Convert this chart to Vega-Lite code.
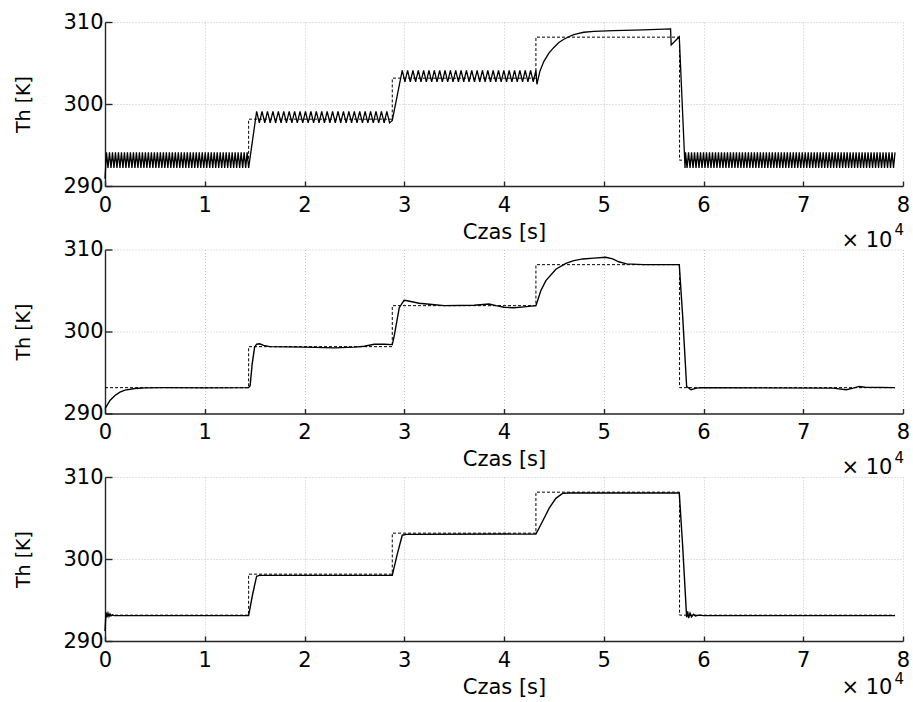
{
"$schema": "https://vega.github.io/schema/vega-lite/v6.json",
"padding": {"left": 14, "top": 11, "right": 2, "bottom": 2},
"background": "white",
"datasets": {
"sp": [{"i":0,"t":0,"v":293.15},{"i":1,"t":14400,"v":293.15},{"i":2,"t":14400,"v":298.15},{"i":3,"t":28800,"v":298.15},{"i":4,"t":28800,"v":303.15},{"i":5,"t":43200,"v":303.15},{"i":6,"t":43200,"v":308.15},{"i":7,"t":57600,"v":308.15},{"i":8,"t":57600,"v":293.15},{"i":9,"t":79200,"v":293.15}],
"r1": [
{"t":0,"v":290.9},{"t":150,"v":294.1},{"t":300,"v":292.2},{"t":450,"v":294.1},{"t":600,"v":292.2},{"t":750,"v":294.1},{"t":900,"v":292.2},{"t":1050,"v":294.1},{"t":1200,"v":292.2},{"t":1350,"v":294.1},{"t":1500,"v":292.2},{"t":1650,"v":294.1},{"t":1800,"v":292.2},{"t":1950,"v":294.1},{"t":2100,"v":292.2},{"t":2250,"v":294.1},{"t":2400,"v":292.2},{"t":2550,"v":294.1},{"t":2700,"v":292.2},{"t":2850,"v":294.1},{"t":3000,"v":292.2},{"t":3150,"v":294.1},{"t":3300,"v":292.2},{"t":3450,"v":294.1},{"t":3600,"v":292.2},{"t":3750,"v":294.1},{"t":3900,"v":292.2},{"t":4050,"v":294.1},{"t":4200,"v":292.2},{"t":4350,"v":294.1},{"t":4500,"v":292.2},{"t":4650,"v":294.1},{"t":4800,"v":292.2},{"t":4950,"v":294.1},{"t":5100,"v":292.2},{"t":5250,"v":294.1},{"t":5400,"v":292.2},{"t":5550,"v":294.1},{"t":5700,"v":292.2},{"t":5850,"v":294.1},{"t":6000,"v":292.2},{"t":6150,"v":294.1},{"t":6300,"v":292.2},{"t":6450,"v":294.1},{"t":6600,"v":292.2},{"t":6750,"v":294.1},{"t":6900,"v":292.2},{"t":7050,"v":294.1},{"t":7200,"v":292.2},{"t":7350,"v":294.1},{"t":7500,"v":292.2},{"t":7650,"v":294.1},{"t":7800,"v":292.2},{"t":7950,"v":294.1},{"t":8100,"v":292.2},{"t":8250,"v":294.1},{"t":8400,"v":292.2},{"t":8550,"v":294.1},{"t":8700,"v":292.2},{"t":8850,"v":294.1},{"t":9000,"v":292.2},{"t":9150,"v":294.1},{"t":9300,"v":292.2},{"t":9450,"v":294.1},{"t":9600,"v":292.2},{"t":9750,"v":294.1},{"t":9900,"v":292.2},{"t":10050,"v":294.1},{"t":10200,"v":292.2},{"t":10350,"v":294.1},{"t":10500,"v":292.2},{"t":10650,"v":294.1},{"t":10800,"v":292.2},{"t":10950,"v":294.1},{"t":11100,"v":292.2},{"t":11250,"v":294.1},{"t":11400,"v":292.2},{"t":11550,"v":294.1},{"t":11700,"v":292.2},{"t":11850,"v":294.1},{"t":12000,"v":292.2},{"t":12150,"v":294.1},{"t":12300,"v":292.2},{"t":12450,"v":294.1},{"t":12600,"v":292.2},{"t":12750,"v":294.1},{"t":12900,"v":292.2},{"t":13050,"v":294.1},{"t":13200,"v":292.2},{"t":13350,"v":294.1},{"t":13500,"v":292.2},{"t":13650,"v":294.1},{"t":13800,"v":292.2},{"t":13950,"v":294.1},{"t":14100,"v":292.2},{"t":14250,"v":294.1},{"t":14400,"v":292.2},
{"t":15200,"v":299.1},{"t":15472,"v":297.7},{"t":15744,"v":299.1},{"t":16016,"v":297.7},{"t":16288,"v":299.1},{"t":16560,"v":297.7},{"t":16832,"v":299.1},{"t":17104,"v":297.7},{"t":17376,"v":299.1},{"t":17648,"v":297.7},{"t":17920,"v":299.1},{"t":18192,"v":297.7},{"t":18464,"v":299.1},{"t":18736,"v":297.7},{"t":19008,"v":299.1},{"t":19280,"v":297.7},{"t":19552,"v":299.1},{"t":19824,"v":297.7},{"t":20096,"v":299.1},{"t":20368,"v":297.7},{"t":20640,"v":299.1},{"t":20912,"v":297.7},{"t":21184,"v":299.1},{"t":21456,"v":297.7},{"t":21728,"v":299.1},{"t":22000,"v":297.7},{"t":22272,"v":299.1},{"t":22544,"v":297.7},{"t":22816,"v":299.1},{"t":23088,"v":297.7},{"t":23360,"v":299.1},{"t":23632,"v":297.7},{"t":23904,"v":299.1},{"t":24176,"v":297.7},{"t":24448,"v":299.1},{"t":24720,"v":297.7},{"t":24992,"v":299.1},{"t":25264,"v":297.7},{"t":25536,"v":299.1},{"t":25808,"v":297.7},{"t":26080,"v":299.1},{"t":26352,"v":297.7},{"t":26624,"v":299.1},{"t":26896,"v":297.7},{"t":27168,"v":299.1},{"t":27440,"v":297.7},{"t":27712,"v":299.1},{"t":27984,"v":297.7},{"t":28256,"v":299.1},{"t":28528,"v":297.7},{"t":28800,"v":298.0},
{"t":29800,"v":304.1},{"t":30068,"v":302.7},{"t":30336,"v":304.1},{"t":30604,"v":302.7},{"t":30872,"v":304.1},{"t":31140,"v":302.7},{"t":31408,"v":304.1},{"t":31676,"v":302.7},{"t":31944,"v":304.1},{"t":32212,"v":302.7},{"t":32480,"v":304.1},{"t":32748,"v":302.7},{"t":33016,"v":304.1},{"t":33284,"v":302.7},{"t":33552,"v":304.1},{"t":33820,"v":302.7},{"t":34088,"v":304.1},{"t":34356,"v":302.7},{"t":34624,"v":304.1},{"t":34892,"v":302.7},{"t":35160,"v":304.1},{"t":35428,"v":302.7},{"t":35696,"v":304.1},{"t":35964,"v":302.7},{"t":36232,"v":304.1},{"t":36500,"v":302.7},{"t":36768,"v":304.1},{"t":37036,"v":302.7},{"t":37304,"v":304.1},{"t":37572,"v":302.7},{"t":37840,"v":304.1},{"t":38108,"v":302.7},{"t":38376,"v":304.1},{"t":38644,"v":302.7},{"t":38912,"v":304.1},{"t":39180,"v":302.7},{"t":39448,"v":304.1},{"t":39716,"v":302.7},{"t":39984,"v":304.1},{"t":40252,"v":302.7},{"t":40520,"v":304.1},{"t":40788,"v":302.7},{"t":41056,"v":304.1},{"t":41324,"v":302.7},{"t":41592,"v":304.1},{"t":41860,"v":302.7},{"t":42128,"v":304.1},{"t":42396,"v":302.7},{"t":42664,"v":304.1},{"t":42932,"v":302.7},{"t":43200,"v":304.1},
{"t":43300,"v":302.4},{"t":43600,"v":304.0},{"t":44000,"v":305.2},{"t":44500,"v":306.2},{"t":45000,"v":306.9},{"t":45500,"v":307.5},{"t":46000,"v":307.9},{"t":46500,"v":308.2},{"t":47000,"v":308.45},{"t":47500,"v":308.6},{"t":48000,"v":308.75},{"t":49000,"v":308.85},{"t":51000,"v":308.95},{"t":54000,"v":309.05},{"t":56700,"v":309.15},{"t":56760,"v":307.2},{"t":57570,"v":308.2},{"t":58150,"v":292.2},
{"t":58200,"v":294.1},{"t":58350,"v":292.2},{"t":58500,"v":294.1},{"t":58650,"v":292.2},{"t":58800,"v":294.1},{"t":58950,"v":292.2},{"t":59100,"v":294.1},{"t":59250,"v":292.2},{"t":59400,"v":294.1},{"t":59550,"v":292.2},{"t":59700,"v":294.1},{"t":59850,"v":292.2},{"t":60000,"v":294.1},{"t":60150,"v":292.2},{"t":60300,"v":294.1},{"t":60450,"v":292.2},{"t":60600,"v":294.1},{"t":60750,"v":292.2},{"t":60900,"v":294.1},{"t":61050,"v":292.2},{"t":61200,"v":294.1},{"t":61350,"v":292.2},{"t":61500,"v":294.1},{"t":61650,"v":292.2},{"t":61800,"v":294.1},{"t":61950,"v":292.2},{"t":62100,"v":294.1},{"t":62250,"v":292.2},{"t":62400,"v":294.1},{"t":62550,"v":292.2},{"t":62700,"v":294.1},{"t":62850,"v":292.2},{"t":63000,"v":294.1},{"t":63150,"v":292.2},{"t":63300,"v":294.1},{"t":63450,"v":292.2},{"t":63600,"v":294.1},{"t":63750,"v":292.2},{"t":63900,"v":294.1},{"t":64050,"v":292.2},{"t":64200,"v":294.1},{"t":64350,"v":292.2},{"t":64500,"v":294.1},{"t":64650,"v":292.2},{"t":64800,"v":294.1},{"t":64950,"v":292.2},{"t":65100,"v":294.1},{"t":65250,"v":292.2},{"t":65400,"v":294.1},{"t":65550,"v":292.2},{"t":65700,"v":294.1},{"t":65850,"v":292.2},{"t":66000,"v":294.1},{"t":66150,"v":292.2},{"t":66300,"v":294.1},{"t":66450,"v":292.2},{"t":66600,"v":294.1},{"t":66750,"v":292.2},{"t":66900,"v":294.1},{"t":67050,"v":292.2},{"t":67200,"v":294.1},{"t":67350,"v":292.2},{"t":67500,"v":294.1},{"t":67650,"v":292.2},{"t":67800,"v":294.1},{"t":67950,"v":292.2},{"t":68100,"v":294.1},{"t":68250,"v":292.2},{"t":68400,"v":294.1},{"t":68550,"v":292.2},{"t":68700,"v":294.1},{"t":68850,"v":292.2},{"t":69000,"v":294.1},{"t":69150,"v":292.2},{"t":69300,"v":294.1},{"t":69450,"v":292.2},{"t":69600,"v":294.1},{"t":69750,"v":292.2},{"t":69900,"v":294.1},{"t":70050,"v":292.2},{"t":70200,"v":294.1},{"t":70350,"v":292.2},{"t":70500,"v":294.1},{"t":70650,"v":292.2},{"t":70800,"v":294.1},{"t":70950,"v":292.2},{"t":71100,"v":294.1},{"t":71250,"v":292.2},{"t":71400,"v":294.1},{"t":71550,"v":292.2},{"t":71700,"v":294.1},{"t":71850,"v":292.2},{"t":72000,"v":294.1},{"t":72150,"v":292.2},{"t":72300,"v":294.1},{"t":72450,"v":292.2},{"t":72600,"v":294.1},{"t":72750,"v":292.2},{"t":72900,"v":294.1},{"t":73050,"v":292.2},{"t":73200,"v":294.1},{"t":73350,"v":292.2},{"t":73500,"v":294.1},{"t":73650,"v":292.2},{"t":73800,"v":294.1},{"t":73950,"v":292.2},{"t":74100,"v":294.1},{"t":74250,"v":292.2},{"t":74400,"v":294.1},{"t":74550,"v":292.2},{"t":74700,"v":294.1},{"t":74850,"v":292.2},{"t":75000,"v":294.1},{"t":75150,"v":292.2},{"t":75300,"v":294.1},{"t":75450,"v":292.2},{"t":75600,"v":294.1},{"t":75750,"v":292.2},{"t":75900,"v":294.1},{"t":76050,"v":292.2},{"t":76200,"v":294.1},{"t":76350,"v":292.2},{"t":76500,"v":294.1},{"t":76650,"v":292.2},{"t":76800,"v":294.1},{"t":76950,"v":292.2},{"t":77100,"v":294.1},{"t":77250,"v":292.2},{"t":77400,"v":294.1},{"t":77550,"v":292.2},{"t":77700,"v":294.1},{"t":77850,"v":292.2},{"t":78000,"v":294.1},{"t":78150,"v":292.2},{"t":78300,"v":294.1},{"t":78450,"v":292.2},{"t":78600,"v":294.1},{"t":78750,"v":292.2},{"t":78900,"v":294.1},{"t":79050,"v":292.2},{"t":79200,"v":294.1}
],
"r2": [
{"t":0,"v":290.6},{"t":200,"v":291.0},{"t":500,"v":291.6},{"t":1000,"v":292.2},{"t":1500,"v":292.6},{"t":2000,"v":292.85},{"t":3000,"v":293.05},{"t":4000,"v":293.12},{"t":6000,"v":293.15},{"t":10000,"v":293.12},{"t":14400,"v":293.15},{"t":14550,"v":293.4},{"t":14750,"v":296.0},{"t":15000,"v":298.1},{"t":15200,"v":298.45},{"t":15500,"v":298.5},{"t":15900,"v":298.3},{"t":16500,"v":298.15},{"t":20000,"v":298.1},{"t":23000,"v":298.0},{"t":25000,"v":298.1},{"t":26000,"v":298.2},{"t":27000,"v":298.45},{"t":28000,"v":298.45},{"t":28800,"v":298.4},{"t":29000,"v":299.5},{"t":29500,"v":302.9},{"t":29980,"v":303.8},{"t":30300,"v":303.75},{"t":31500,"v":303.45},{"t":32800,"v":303.3},{"t":34000,"v":303.15},{"t":37000,"v":303.2},{"t":38500,"v":303.35},{"t":39200,"v":303.15},{"t":40000,"v":302.95},{"t":41000,"v":302.9},{"t":42000,"v":303.0},{"t":43200,"v":303.15},{"t":43700,"v":305.0},{"t":44200,"v":306.2},{"t":45200,"v":307.6},{"t":46200,"v":308.3},{"t":47000,"v":308.65},{"t":47900,"v":308.85},{"t":49000,"v":308.95},{"t":50200,"v":309.05},{"t":50900,"v":308.85},{"t":51500,"v":308.5},{"t":52300,"v":308.25},{"t":54000,"v":308.15},{"t":57570,"v":308.15},{"t":57900,"v":302.1},{"t":58310,"v":293.3},{"t":58750,"v":292.9},{"t":59300,"v":293.1},{"t":59900,"v":293.15},{"t":73000,"v":293.1},{"t":74300,"v":292.9},{"t":75000,"v":293.1},{"t":75600,"v":293.3},{"t":76200,"v":293.2},{"t":79200,"v":293.15}
],
"r3": [
{"t":0,"v":291.2},{"t":100,"v":293.5},{"t":200,"v":292.9},{"t":300,"v":293.4},{"t":400,"v":293.0},{"t":500,"v":293.3},{"t":600,"v":293.05},{"t":750,"v":293.2},{"t":900,"v":293.1},{"t":14400,"v":293.1},{"t":14800,"v":295.7},{"t":15200,"v":297.9},{"t":15500,"v":298.0},{"t":28800,"v":298.0},{"t":29300,"v":300.6},{"t":29800,"v":302.9},{"t":30200,"v":303.0},{"t":43200,"v":303.05},{"t":43870,"v":304.6},{"t":44530,"v":306.2},{"t":45200,"v":307.4},{"t":45870,"v":308.0},{"t":46500,"v":308.05},{"t":57570,"v":308.05},{"t":57900,"v":301.8},{"t":58310,"v":292.9},{"t":58410,"v":293.6},{"t":58510,"v":292.8},{"t":58650,"v":293.4},{"t":58800,"v":292.95},{"t":59000,"v":293.25},{"t":59200,"v":293.05},{"t":59500,"v":293.15},{"t":60000,"v":293.1},{"t":79200,"v":293.1}
]
},
"vconcat": [
{"width": 798, "height": 164, "layer": [
 {"data": {"name": "sp"}, "mark": {"type": "line", "color": "black", "strokeWidth": 1, "strokeDash": [3, 2]},
  "encoding": {"x": {"field": "t", "type": "quantitative", "title": "Czas [s]", "scale": {"domain": [0, 80000], "nice": false}, "axis": {"values": [0,10000,20000,30000,40000,50000,60000,70000,80000], "labelExpr": "datum.value/10000"}},
   "y": {"field": "v", "type": "quantitative", "title": "Th [K]", "scale": {"domain": [290, 310], "nice": false, "zero": false}, "axis": {"values": [290, 300, 310]}},
   "order": {"field": "i"}}},
 {"data": {"name": "r1"}, "mark": {"type": "line", "color": "black", "strokeWidth": 1.3},
  "encoding": {"x": {"field": "t", "type": "quantitative", "title": "Czas [s]"}, "y": {"field": "v", "type": "quantitative", "title": "Th [K]"}}},
 {"data": {"values": [{"a": "× 10"}]}, "mark": {"type": "text", "align": "right", "baseline": "alphabetic", "fontSize": 21},
  "encoding": {"x": {"datum": 78940, "type": "quantitative"}, "y": {"datum": 282.6, "type": "quantitative"}, "text": {"field": "a"}}},
 {"data": {"values": [{"a": "4"}]}, "mark": {"type": "text", "align": "left", "baseline": "alphabetic", "fontSize": 15},
  "encoding": {"x": {"datum": 79140, "type": "quantitative"}, "y": {"datum": 284.0, "type": "quantitative"}, "text": {"field": "a"}}}
]},
{"width": 798, "height": 164, "layer": [
 {"data": {"name": "sp"}, "mark": {"type": "line", "color": "black", "strokeWidth": 1, "strokeDash": [3, 2]},
  "encoding": {"x": {"field": "t", "type": "quantitative", "title": "Czas [s]", "scale": {"domain": [0, 80000], "nice": false}, "axis": {"values": [0,10000,20000,30000,40000,50000,60000,70000,80000], "labelExpr": "datum.value/10000"}},
   "y": {"field": "v", "type": "quantitative", "title": "Th [K]", "scale": {"domain": [290, 310], "nice": false, "zero": false}, "axis": {"values": [290, 300, 310]}},
   "order": {"field": "i"}}},
 {"data": {"name": "r2"}, "mark": {"type": "line", "color": "black", "strokeWidth": 1.4},
  "encoding": {"x": {"field": "t", "type": "quantitative", "title": "Czas [s]"}, "y": {"field": "v", "type": "quantitative", "title": "Th [K]"}}},
 {"data": {"values": [{"a": "× 10"}]}, "mark": {"type": "text", "align": "right", "baseline": "alphabetic", "fontSize": 21},
  "encoding": {"x": {"datum": 78940, "type": "quantitative"}, "y": {"datum": 282.6, "type": "quantitative"}, "text": {"field": "a"}}},
 {"data": {"values": [{"a": "4"}]}, "mark": {"type": "text", "align": "left", "baseline": "alphabetic", "fontSize": 15},
  "encoding": {"x": {"datum": 79140, "type": "quantitative"}, "y": {"datum": 284.0, "type": "quantitative"}, "text": {"field": "a"}}}
]},
{"width": 798, "height": 164, "layer": [
 {"data": {"name": "sp"}, "mark": {"type": "line", "color": "black", "strokeWidth": 1, "strokeDash": [3, 2]},
  "encoding": {"x": {"field": "t", "type": "quantitative", "title": "Czas [s]", "scale": {"domain": [0, 80000], "nice": false}, "axis": {"values": [0,10000,20000,30000,40000,50000,60000,70000,80000], "labelExpr": "datum.value/10000"}},
   "y": {"field": "v", "type": "quantitative", "title": "Th [K]", "scale": {"domain": [290, 310], "nice": false, "zero": false}, "axis": {"values": [290, 300, 310]}},
   "order": {"field": "i"}}},
 {"data": {"name": "r3"}, "mark": {"type": "line", "color": "black", "strokeWidth": 1.4},
  "encoding": {"x": {"field": "t", "type": "quantitative", "title": "Czas [s]"}, "y": {"field": "v", "type": "quantitative", "title": "Th [K]"}}},
 {"data": {"values": [{"a": "× 10"}]}, "mark": {"type": "text", "align": "right", "baseline": "alphabetic", "fontSize": 21},
  "encoding": {"x": {"datum": 78940, "type": "quantitative"}, "y": {"datum": 283.5, "type": "quantitative"}, "text": {"field": "a"}}},
 {"data": {"values": [{"a": "4"}]}, "mark": {"type": "text", "align": "left", "baseline": "alphabetic", "fontSize": 15},
  "encoding": {"x": {"datum": 79140, "type": "quantitative"}, "y": {"datum": 284.8, "type": "quantitative"}, "text": {"field": "a"}}}
]}
],
"spacing": 63.5,
"bounds": "flush",
"config": {
 "view": {"stroke": null},
 "font": "DejaVu Sans",
 "text": {"font": "DejaVu Sans", "color": "black"},
 "axis": {"domainColor": "#262626", "domainWidth": 1.4, "tickColor": "#262626", "tickWidth": 1.4, "gridColor": "#c4c4c4", "gridDash": [1, 2], "gridWidth": 1, "labelColor": "black", "labelFont": "DejaVu Sans", "labelFontSize": 21, "titleFont": "DejaVu Sans", "titleFontSize": 21, "titleFontWeight": "normal", "titleColor": "black", "labelOverlap": false},
 "axisX": {"tickSize": -5, "labelPadding": 13, "labelFlush": false, "titleY": 35, "titleBaseline": "top"},
 "axisY": {"tickSize": -7, "labelPadding": 9, "labelOffset": 0, "titleFontSize": 19, "titleX": -72, "titleY": 82, "titleAngle": 270, "titleBaseline": "bottom", "titleAlign": "center"}
}
}
